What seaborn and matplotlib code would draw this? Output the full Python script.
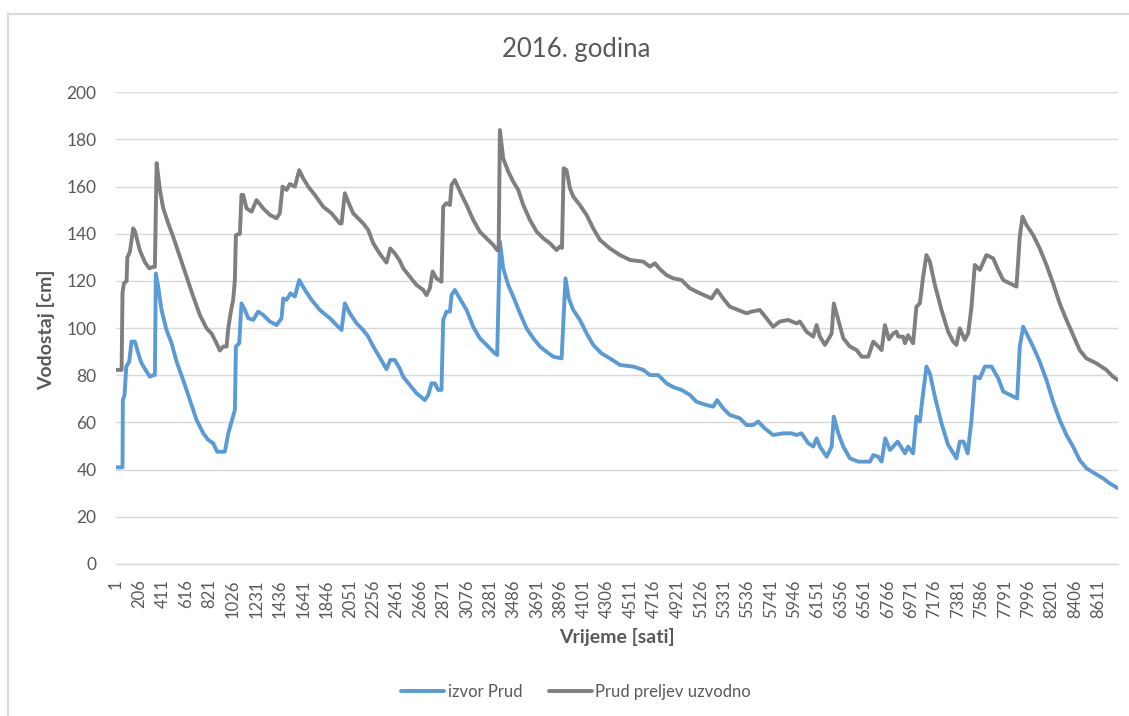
import matplotlib
matplotlib.use("Agg")
import matplotlib.pyplot as plt
from matplotlib.lines import Line2D
import seaborn as sns
import pandas as pd

# ---------------- data ----------------
title = "2016. godina"
x_label = "Vrijeme [sati]"
y_label = "Vodostaj [cm]"
series_blue = "izvor Prud"
series_gray = "Prud preljev uzvodno"

x_ticks = list(range(1, 8612, 205))
y_ticks = [0, 20, 40, 60, 80, 100, 120, 140, 160, 180, 200]

hours_gray = [1, 50, 58, 70, 94, 100, 123, 152, 167, 210, 254, 292, 327, 342, 357, 386, 415, 459, 502,
              561, 620, 678, 736, 795, 838, 882, 911, 940, 970, 985, 1005, 1028, 1043, 1052, 1087, 1101,
              1116, 1145, 1189, 1233, 1291, 1350, 1408, 1437, 1461, 1496, 1525, 1569, 1607, 1642, 1686,
              1744, 1817, 1890, 1963, 1978, 2007, 2036, 2080, 2168, 2212, 2256, 2314, 2372, 2405, 2445,
              2489, 2518, 2577, 2635, 2694, 2723, 2752, 2776, 2810, 2854, 2869, 2898, 2928, 2942, 2971,
              3030, 3074, 3132, 3190, 3249, 3307, 3342, 3355, 3366, 3395, 3439, 3483, 3527, 3571, 3629,
              3688, 3746, 3804, 3863, 3892, 3910, 3925, 3950, 3980, 4009, 4067, 4126, 4184, 4243, 4330,
              4418, 4506, 4623, 4681, 4725, 4769, 4827, 4886, 4958, 5031, 5118, 5221, 5270, 5323, 5381,
              5455, 5528, 5571, 5644, 5703, 5761, 5820, 5893, 5966, 5995, 6054, 6113, 6142, 6171, 6215,
              6259, 6274, 6293, 6332, 6376, 6434, 6493, 6537, 6595, 6639, 6683, 6712, 6741, 6776, 6815,
              6842, 6858, 6900, 6917, 6944, 6988, 7017, 7047, 7076, 7105, 7135, 7179, 7237, 7295, 7339,
              7368, 7397, 7441, 7471, 7500, 7529, 7573, 7631, 7690, 7734, 7778, 7836, 7894, 7923, 7947,
              7982, 8040, 8098, 8157, 8215, 8273, 8332, 8390, 8448, 8507, 8594, 8682, 8741, 8784]
level_gray = [82.3, 82.3, 114.8, 119, 120, 130, 132.4, 142.3, 141, 133, 128, 125.4, 126, 126, 170, 158.6,
              150.8, 144.4, 138.8, 130.3, 121.8, 113.4, 105.6, 99.9, 97.8, 93.6, 90.5, 92.2, 92.2, 99.9,
              106.3, 112, 120.4, 139.5, 140, 156.5, 156.5, 150.8, 149.4, 154.3, 150.8, 148, 146.6, 148.7,
              160, 158.6, 161.1, 160, 167, 163.5, 160, 156.5, 151.5, 148.7, 144.4, 144.4, 157.2, 153.6,
              148.7, 144.4, 141.6, 136, 131.5, 127.8, 133.8, 131.7, 128.5, 125.4, 121.8, 118.3, 116.2,
              114, 116.9, 124, 121.1, 119.7, 151.5, 153, 152.2, 160.7, 162.8, 156.5, 152.2, 145.9, 140.9,
              138.1, 135.3, 133.1, 133, 184, 172, 166.4, 162.1, 158.6, 152.2, 145.9, 140.9, 138.1, 136,
              133.1, 134.6, 134, 167.8, 167, 159.3, 155.8, 152.2, 148, 142.3, 137.4, 133.8, 131, 128.9,
              128.2, 126.1, 127.5, 125, 122.5, 121.1, 120.4, 116.9, 114.8, 112.6, 116.2, 112.6, 109.1,
              107.7, 106.3, 107, 107.7, 104.2, 100.6, 102.8, 103.5, 102, 102.8, 98.5, 96.4, 101.3, 96.4,
              92.9, 96.4, 97.8, 110.5, 103.5, 95.7, 92.2, 90.7, 87.9, 87.9, 94.3, 92.2, 90.7, 101.3, 95.3,
              97.8, 98.5, 96.4, 96.4, 93.6, 97, 93.6, 109.1, 110.5, 121.8, 131, 128.2, 118.3, 107.7, 98.5,
              94.3, 92.9, 99.9, 95, 97.8, 109.1, 126.8, 124.7, 131, 129.6, 124.7, 120.4, 119, 117.6, 138.8,
              147.3, 143.7, 139.5, 133.8, 126.8, 119, 110.5, 103.5, 97.1, 90.7, 87.2, 85.1, 82.3, 79.4, 78]

hours_blue = [1, 50, 58, 61, 76, 91, 117, 137, 167, 196, 225, 269, 298, 327, 342, 350, 371, 400, 444, 488,
              532, 590, 649, 707, 766, 810, 853, 888, 955, 985, 1014, 1043, 1052, 1081, 1101, 1131, 1160,
              1204, 1247, 1291, 1350, 1408, 1452, 1467, 1496, 1531, 1569, 1607, 1657, 1715, 1788, 1876,
              1934, 1978, 2007, 2051, 2110, 2168, 2212, 2256, 2314, 2372, 2405, 2445, 2489, 2518, 2577,
              2635, 2708, 2738, 2767, 2796, 2825, 2854, 2869, 2898, 2928, 2942, 2971, 3015, 3074, 3132,
              3190, 3249, 3307, 3342, 3366, 3395, 3439, 3483, 3542, 3600, 3659, 3717, 3775, 3834, 3907,
              3941, 3970, 4009, 4067, 4126, 4184, 4257, 4330, 4418, 4535, 4623, 4681, 4754, 4827, 4886,
              4958, 5031, 5089, 5177, 5235, 5270, 5323, 5381, 5469, 5528, 5586, 5630, 5688, 5761, 5849,
              5922, 5966, 6010, 6069, 6113, 6142, 6171, 6230, 6259, 6274, 6293, 6332, 6376, 6434, 6507,
              6610, 6639, 6683, 6712, 6744, 6785, 6852, 6900, 6917, 6944, 6988, 7017, 7047, 7070, 7105,
              7135, 7179, 7237, 7295, 7368, 7397, 7430, 7466, 7500, 7529, 7573, 7617, 7676, 7734, 7778,
              7836, 7900, 7923, 7953, 7997, 8040, 8098, 8157, 8215, 8273, 8332, 8390, 8448, 8507, 8580,
              8653, 8711, 8784]
level_blue = [41, 41, 41, 69.5, 71.7, 83.7, 85.8, 94.3, 94.3, 89.3, 85.1, 81.6, 79.4, 80.1, 80.1, 123.2,
              117.6, 107.7, 99.2, 93.6, 85.8, 78, 69.5, 61.1, 55.4, 52.6, 51.2, 47.6, 47.6, 55.4, 60.4,
              65.3, 92.2, 93.6, 110.5, 107.7, 104.2, 103.5, 107, 105.6, 102.8, 101.3, 104.2, 112.6, 112,
              114.8, 113.4, 120.4, 116.2, 112, 107.7, 104.2, 101.3, 99.2, 110.5, 106.3, 102, 99.2, 96.4,
              92.2, 87.5, 82.6, 86.5, 86.5, 82.8, 79.4, 75.9, 72.4, 69.5, 71.7, 76.6, 76.6, 73.8, 73.8,
              103.5, 107, 107, 114, 116.2, 112.6, 107.7, 100.6, 95.7, 92.9, 90, 88.6, 136.7, 125.4, 118.3,
              113.4, 106.3, 99.9, 95.7, 92.2, 90, 87.9, 87.2, 121.1, 112.6, 107.7, 103.5, 97.8, 92.9, 89.3,
              87.2, 84.4, 83.7, 82.3, 80.1, 80.1, 76.6, 75, 73.8, 71.7, 68.8, 67.4, 66.7, 69.5, 66, 63.2,
              61.8, 58.9, 58.9, 60.4, 57.5, 54.7, 55.4, 55.4, 54.7, 55.4, 51.2, 49.8, 53.3, 49.8, 45.5,
              48.3, 49.8, 62.5, 55.4, 49.8, 44.8, 43.4, 43.4, 46.2, 45.5, 43.4, 53.3, 48.3, 51.9, 48.3,
              46.9, 49.8, 46.9, 62.5, 60.4, 70.2, 83.7, 80.8, 71, 59.6, 50.5, 44.8, 51.9, 51.9, 46.9, 61.1,
              79.4, 78.7, 83.7, 83.7, 78.7, 73.1, 71.7, 70.2, 92.2, 100.6, 96.4, 92.2, 85.8, 78, 68.8,
              61.1, 54.7, 49.8, 44.1, 40.6, 38.4, 36.3, 34.2, 32.1]

# ---------------- styling ----------------
sns.set_style("white")
plt.rcParams["font.family"] = ["Lato", "DejaVu Sans"]
TXT = "#595959"
GRID = "#D9D9D9"
BLUE = "#5B9BD5"
GRAY = "#7F7F7F"
LW = 2.8

W, H = 1129, 716
fig = plt.figure(figsize=(W / 100, H / 100), dpi=100)

# chart-area border (clipped at right/bottom like the reference)
fig.add_artist(Line2D([8 / W, 1.0], [1 - 14 / H, 1 - 14 / H], transform=fig.transFigure,
                      color=GRID, lw=1.5))
fig.add_artist(Line2D([8 / W, 8 / W], [0.0, 1 - 14 / H], transform=fig.transFigure,
                      color=GRID, lw=1.5))

left, right, top, bottom = 116, 1118, 92.3, 564
ax = fig.add_axes([left / W, 1 - bottom / H, (right - left) / W, (bottom - top) / H])

df_b = pd.DataFrame({"sat": hours_blue, "vodostaj": level_blue})
df_g = pd.DataFrame({"sat": hours_gray, "vodostaj": level_gray})
sns.lineplot(data=df_b, x="sat", y="vodostaj", ax=ax, color=BLUE, lw=LW, label=series_blue)
sns.lineplot(data=df_g, x="sat", y="vodostaj", ax=ax, color=GRAY, lw=LW, label=series_gray)

ax.set_xlim(1, 8784)
ax.set_ylim(0, 200)
ax.set_yticks(y_ticks)
ax.set_xticks(x_ticks)
ax.set_xticklabels([str(t) for t in x_ticks], rotation=90)
ax.tick_params(axis="y", length=0, pad=14, labelsize=12.5, labelcolor=TXT)
ax.tick_params(axis="x", length=0, pad=11, labelsize=12, labelcolor=TXT)

ax.grid(axis="y", color=GRID, lw=1.0)
ax.grid(axis="x", visible=False)
for s in ["left", "right", "top"]:
    ax.spines[s].set_visible(False)
ax.spines["bottom"].set_color(GRID)
ax.spines["bottom"].set_linewidth(1.0)
ax.set_axisbelow(True)

ax.set_xlabel("")
ax.set_ylabel("")
fig.text(617 / W, 1 - 637 / H, x_label, ha="center", va="center", fontsize=14,
         fontweight="bold", color=TXT)
fig.text(46 / W, 1 - 330 / H, y_label, ha="center", va="center", fontsize=14,
         fontweight="bold", color=TXT, rotation=90)
fig.text(576 / W, 1 - 49 / H, title, ha="center", va="center", fontsize=18.5, color=TXT)

ax.legend_.remove()
handles = [Line2D([], [], color=BLUE, lw=LW), Line2D([], [], color=GRAY, lw=LW)]
fig.legend(handles, [series_blue, series_gray], loc="center", ncol=2,
           bbox_to_anchor=(576 / W, 1 - 692 / H), frameon=False, fontsize=12,
           handlelength=2.6, handletextpad=0.2, columnspacing=1.6, labelcolor=TXT)

fig.savefig("out.png", dpi=100)
